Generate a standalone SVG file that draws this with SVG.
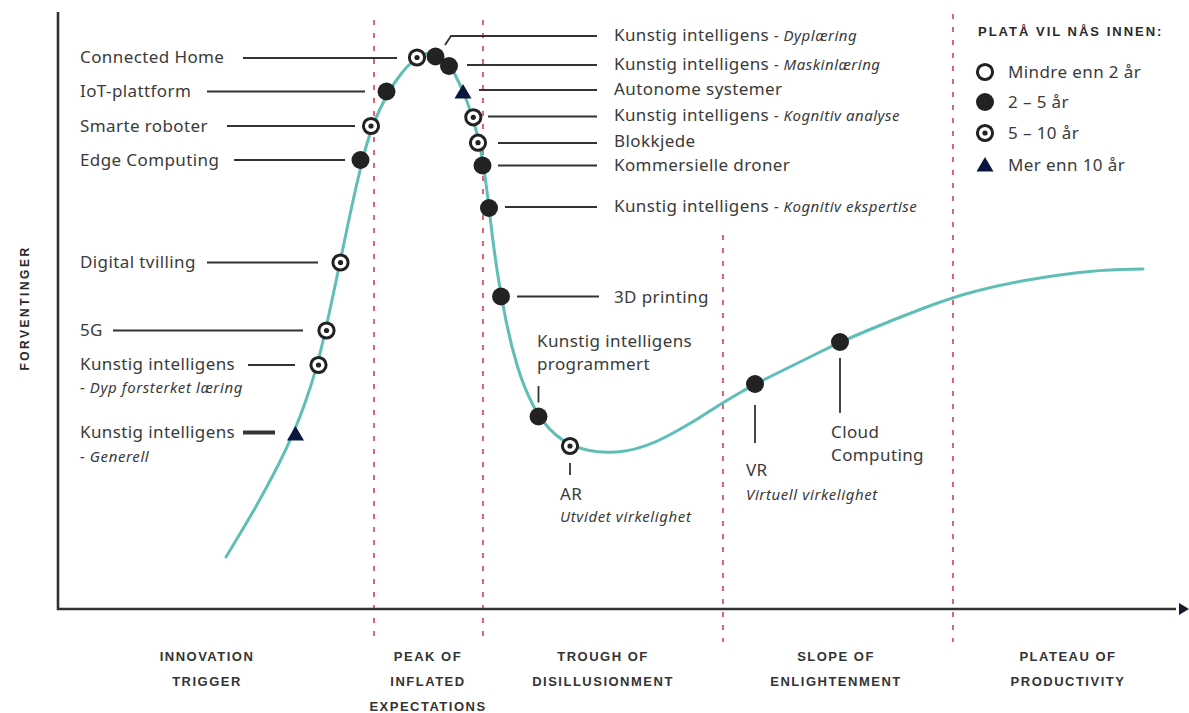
<svg xmlns="http://www.w3.org/2000/svg" xmlns:xlink="http://www.w3.org/1999/xlink" width="1189" height="713" viewBox="0 0 1189 713">
<style>
.lbl{font-family:"Noto Sans","Liberation Sans",sans-serif;font-size:17px;fill:#3a3a3a;letter-spacing:0.4px}
.it{font-family:"Noto Sans","Liberation Sans",sans-serif;font-style:italic;font-size:15px;fill:#3a3a3a;letter-spacing:0.6px}
.sub{font-style:italic;font-size:15px;letter-spacing:0.5px}
.phase{font-family:"Liberation Sans",Arial,sans-serif;font-weight:bold;font-size:13px;letter-spacing:1.5px;fill:#333;text-anchor:middle}
.head{font-family:"Liberation Sans",Arial,sans-serif;font-weight:bold;font-size:13px;letter-spacing:2px;fill:#2a2a2a}
.lead{stroke:#333;stroke-width:1.8;fill:none}
.vdash{stroke:#e5636e;stroke-width:2;stroke-dasharray:5 8}
.axis{stroke:#333;stroke-width:2.6;fill:none}
.curve{stroke:#5fbfb7;stroke-width:3;fill:none;stroke-linecap:round}
</style>
<defs>
<g id="m-dot"><circle r="9" fill="#222"/></g>
<g id="m-ring"><circle r="7.6" fill="#fff" stroke="#222" stroke-width="3"/><circle r="2.6" fill="#222"/></g>
<g id="m-open"><circle r="7.6" fill="#fff" stroke="#222" stroke-width="3"/></g>
<g id="m-tri"><polygon points="0,-8 8.5,6.5 -8.5,6.5" fill="#0b1640"/></g>
</defs>
<rect width="1189" height="713" fill="#fff"/>

<g id="phase-lines">
<line class="vdash" x1="374" y1="20" x2="374" y2="642"/>
<line class="vdash" x1="483" y1="20" x2="483" y2="642"/>
<line class="vdash" x1="723" y1="235" x2="723" y2="642"/>
<line class="vdash" x1="953" y1="14" x2="953" y2="642"/>
</g>

<g id="axes">
<polyline class="axis" points="58,12 58,609 1176,609"/>
<polygon points="1179,603 1189,609 1179,615" fill="#1a1a2e"/>
<text class="head" transform="translate(29,308) rotate(-90)" text-anchor="middle" style="font-size:12px;letter-spacing:2.5px">FORVENTINGER</text>
</g>

<g id="curve">
<path class="curve" d="M226,557 L244,527 Q262,497 278,465.5 Q294,434 305,403 Q316,372 323,341 Q330,310 336.5,279 Q343,248 349.5,217 Q356,186 363,158 Q370,130 380,109 Q390,88 401,74 Q412,60 421,55.5 Q430,51 439,56 Q448,61 455,74.5 Q462,88 467,101.5 Q472,115 476,130 Q480,145 482.5,160 Q485,175 487,191.5 Q489,208 491.5,229 Q494,250 497.5,273 Q501,296 506,320.5 Q511,345 517.5,366.5 Q524,388 533.5,406 Q543,424 556,435 Q569,446 587,450 Q605,454 625,451 Q645,448 667.5,436 Q690,424 706,413.5 Q722,403 738.5,393.5 Q755,384 777.5,373 Q800,362 820,352 Q840,342 867.5,330.5 Q895,319 924,308 Q953,297 976.5,291 Q1000,285 1025,280.5 Q1050,276 1075,273 Q1100,270 1121.5,269.5 L1143,269"/>
</g>

<g id="connectors">
<line class="lead" x1="243" y1="58" x2="397" y2="58"/>
<line class="lead" x1="207" y1="91.5" x2="365" y2="91.5"/>
<line class="lead" x1="227" y1="126" x2="355" y2="126"/>
<line class="lead" x1="234" y1="160" x2="345" y2="160"/>
<line class="lead" x1="207" y1="262.5" x2="318" y2="262.5"/>
<line class="lead" x1="113" y1="330.5" x2="303" y2="330.5"/>
<line class="lead" x1="248" y1="365" x2="295" y2="365"/>
<line class="lead" x1="243" y1="432.5" x2="275" y2="432.5" style="stroke-width:4"/>
<polyline class="lead" points="445,45 451,36 597,36"/>
<line class="lead" x1="467" y1="65" x2="597" y2="65"/>
<line class="lead" x1="479" y1="90" x2="597" y2="90"/>
<line class="lead" x1="488" y1="116.5" x2="597" y2="116.5"/>
<line class="lead" x1="498" y1="143" x2="597" y2="143"/>
<line class="lead" x1="498" y1="165.5" x2="597" y2="165.5"/>
<line class="lead" x1="505" y1="207" x2="597" y2="207"/>
<line class="lead" x1="517" y1="296.5" x2="599" y2="296.5"/>
<line class="lead" x1="538.5" y1="386" x2="538.5" y2="402.5"/>
<line class="lead" x1="570" y1="463" x2="570" y2="475"/>
<line class="lead" x1="755" y1="405" x2="755" y2="443"/>
<line class="lead" x1="840" y1="358" x2="840" y2="413"/>
</g>

<g id="node-connected-home"><use xlink:href="#m-ring" x="417" y="57.5"/><text class="lbl" x="80" y="63">Connected Home</text></g>
<g id="node-iot"><use xlink:href="#m-dot" x="386.5" y="91.5"/><text class="lbl" x="80" y="97">IoT-plattform</text></g>
<g id="node-smarte-roboter"><use xlink:href="#m-ring" x="371" y="126"/><text class="lbl" x="80" y="132">Smarte roboter</text></g>
<g id="node-edge"><use xlink:href="#m-dot" x="360.5" y="160"/><text class="lbl" x="80" y="166">Edge Computing</text></g>
<g id="node-digital-tvilling"><use xlink:href="#m-ring" x="340.5" y="262.5"/><text class="lbl" x="80" y="268">Digital tvilling</text></g>
<g id="node-5g"><use xlink:href="#m-ring" x="326.5" y="330.5"/><text class="lbl" x="80" y="336">5G</text></g>
<g id="node-ki-dyp"><use xlink:href="#m-ring" x="318.5" y="365"/><text class="lbl" x="80" y="370">Kunstig intelligens</text><text class="it" x="80" y="393">- Dyp forsterket læring</text></g>
<g id="node-ki-generell"><use xlink:href="#m-tri" x="295.5" y="434"/><text class="lbl" x="80" y="438">Kunstig intelligens</text><text class="it" x="80" y="462">- Generell</text></g>

<g id="node-ki-dyplaering"><use xlink:href="#m-dot" x="435.5" y="56.5"/><text class="lbl" x="614" y="41">Kunstig intelligens <tspan class="sub">- Dyplæring</tspan></text></g>
<g id="node-ki-maskinlaering"><use xlink:href="#m-dot" x="449" y="66"/><text class="lbl" x="614" y="70">Kunstig intelligens <tspan class="sub">- Maskinlæring</tspan></text></g>
<g id="node-autonome"><use xlink:href="#m-tri" x="463" y="92"/><text class="lbl" x="614" y="95">Autonome systemer</text></g>
<g id="node-ki-kognitiv-analyse"><use xlink:href="#m-ring" x="473.3" y="117.3"/><text class="lbl" x="614" y="121">Kunstig intelligens <tspan class="sub">- Kognitiv analyse</tspan></text></g>
<g id="node-blokkjede"><use xlink:href="#m-ring" x="478" y="142.7"/><text class="lbl" x="614" y="147">Blokkjede</text></g>
<g id="node-droner"><use xlink:href="#m-dot" x="482.5" y="165.5"/><text class="lbl" x="614" y="171">Kommersielle droner</text></g>
<g id="node-ki-kognitiv-ekspertise"><use xlink:href="#m-dot" x="489" y="208"/><text class="lbl" x="614" y="212">Kunstig intelligens <tspan class="sub">- Kognitiv ekspertise</tspan></text></g>
<g id="node-3d-printing"><use xlink:href="#m-dot" x="501" y="296.5"/><text class="lbl" x="614" y="303">3D printing</text></g>
<g id="node-ki-programmert"><use xlink:href="#m-dot" x="538.5" y="416.5"/><text class="lbl" x="537" y="347">Kunstig intelligens</text><text class="lbl" x="537" y="370">programmert</text></g>
<g id="node-ar"><use xlink:href="#m-ring" x="570" y="446"/><text class="lbl" x="560" y="500">AR</text><text class="it" x="560" y="522">Utvidet virkelighet</text></g>
<g id="node-vr"><use xlink:href="#m-dot" x="755" y="384"/><text class="lbl" x="746" y="476">VR</text><text class="it" x="746" y="500">Virtuell virkelighet</text></g>
<g id="node-cloud"><use xlink:href="#m-dot" x="840" y="342"/><text class="lbl" x="831" y="438">Cloud</text><text class="lbl" x="831" y="461">Computing</text></g>

<g id="legend">
<text class="head" x="978" y="36">PLATÅ VIL NÅS INNEN:</text>
<use xlink:href="#m-open" x="985" y="72"/><text class="lbl" x="1008" y="78">Mindre enn 2 år</text>
<use xlink:href="#m-dot" x="985" y="102"/><text class="lbl" x="1008" y="108">2 – 5 år</text>
<use xlink:href="#m-ring" x="985" y="133"/><text class="lbl" x="1008" y="139">5 – 10 år</text>
<use xlink:href="#m-tri" x="985" y="165"/><text class="lbl" x="1008" y="171">Mer enn 10 år</text>
</g>

<g id="phases">
<text class="phase" x="207" y="661">INNOVATION</text>
<text class="phase" x="207" y="686">TRIGGER</text>
<text class="phase" x="428" y="661">PEAK OF</text>
<text class="phase" x="428" y="686">INFLATED</text>
<text class="phase" x="428" y="711">EXPECTATIONS</text>
<text class="phase" x="603" y="661">TROUGH OF</text>
<text class="phase" x="603" y="686">DISILLUSIONMENT</text>
<text class="phase" x="836" y="661">SLOPE OF</text>
<text class="phase" x="836" y="686">ENLIGHTENMENT</text>
<text class="phase" x="1068" y="661">PLATEAU OF</text>
<text class="phase" x="1068" y="686">PRODUCTIVITY</text>
</g>
</svg>
